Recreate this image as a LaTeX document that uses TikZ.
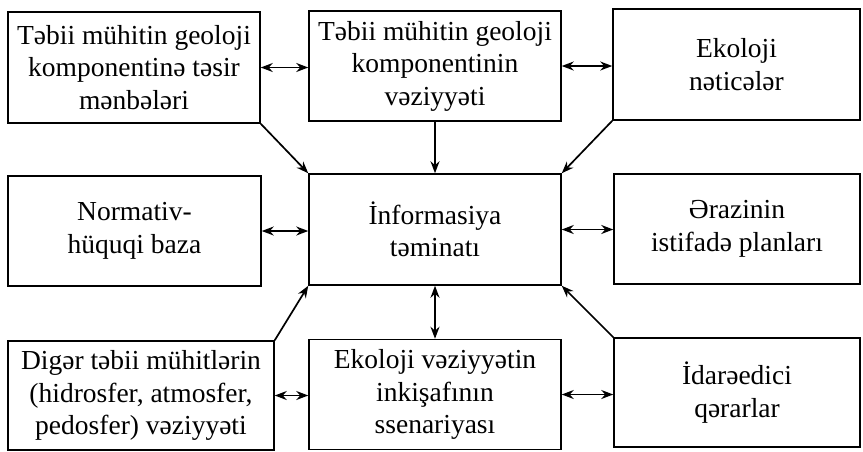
\documentclass[tikz,border=0pt]{standalone}
\usepackage{fontspec}
\setmainfont{Liberation Serif}
\usetikzlibrary{arrows.meta}
\tikzset{block/.style={draw,line width=1.5pt,align=center,inner sep=0pt,
   font=\fontsize{27.5}{32.5}\selectfont},
 link/.style={-{Stealth[length=12pt,width=9pt]},line width=1.7pt},
 twoway/.style={{Stealth[length=12pt,width=9pt]}-{Stealth[length=12pt,width=9pt]},line width=1.7pt}}

\begin{document}
\begin{tikzpicture}[x=1pt,y=-1pt]
\useasboundingbox (0,0) rectangle (863,451);
% top row
\node[block,minimum width=252pt,minimum height=111pt] (src) at (134,67.5) {Təbii mühitin geoloji\\komponentinə təsir\\mənbələri};
\node[block,minimum width=252pt,minimum height=110pt] (state) at (435,66) {Təbii mühitin geoloji\\komponentinin\\vəziyyəti};
\node[block,minimum width=247pt,minimum height=111pt] (eco) at (736.5,64.5) {Ekoloji\\nəticələr};
% middle row
\node[block,minimum width=253pt,minimum height=110pt] (norm) at (134.5,231) {Normativ-\\hüquqi baza};
\node[block,minimum width=252pt,minimum height=111pt] (info) at (435,229.5) {İnformasiya\\təminatı};
\node[block,minimum width=246pt,minimum height=110pt] (plan) at (737,229) {Ərazinin\\istifadə planları};
% bottom row
\node[block,minimum width=266pt,minimum height=109pt] (other) at (141,395.5) {Digər təbii mühitlərin\\(hidrosfer, atmosfer,\\pedosfer) vəziyyəti};
\node[block,minimum width=252pt,minimum height=110pt] (scen) at (435,394.5) {Ekoloji vəziyyətin\\inkişafının\\ssenariyası};
\node[block,minimum width=246pt,minimum height=109pt] (dec) at (737,392.5) {İdarəedici\\qərarlar};

\draw[twoway] (src.east)--(state.west |- src.east);
\draw[twoway] (state.east)--(eco.west |- state.east);
\draw[link] (src.south east)--(info.north west);
\draw[link] (state.south)--(info.north);
\draw[link] (eco.south west)--(info.north east);
\draw[twoway] (norm.east)--(info.west |- norm.east);
\draw[twoway] (info.east)--(plan.west |- info.east);
\draw[link] (other.north east)--(info.south west);
\draw[twoway] (scen.north)--(info.south);
\draw[link] (dec.north west)--(info.south east);
\draw[twoway] (other.east)--(scen.west |- other.east);
\draw[twoway] (scen.east)--(dec.west |- scen.east);
\end{tikzpicture}
\end{document}
